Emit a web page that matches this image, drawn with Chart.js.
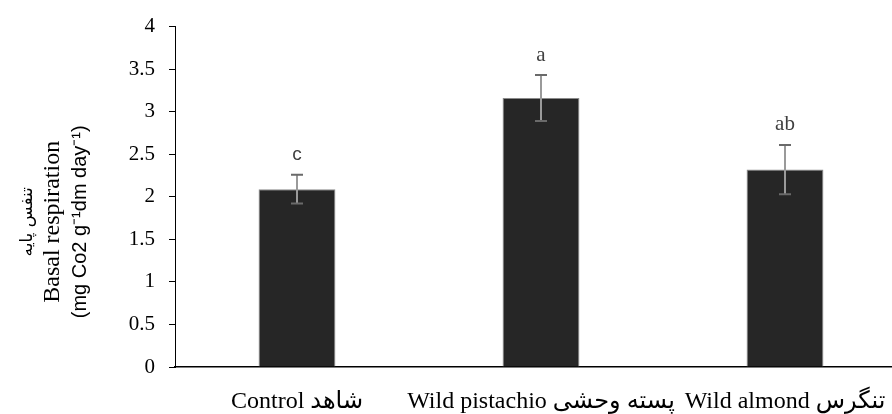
<!DOCTYPE html>
<html>
<head>
<meta charset="utf-8">
<script src="https://cdn.jsdelivr.net/npm/chart.js@4/dist/chart.umd.min.js"></script>
<style>
  html, body { margin: 0; padding: 0; background: #ffffff; overflow: hidden; }
  #wrap { width: 910px; height: 414px; }
</style>
</head>
<body>
<div id="wrap"><canvas id="c" width="910" height="414"></canvas></div>
<script>
// ---- data ----
const categories = ['Control شاهد', 'Wild pistachio پسته وحشی', 'Wild almond تنگرس'];
const meanValues = [2.09, 3.16, 2.32];
const errorValues = [0.17, 0.27, 0.29];
const groupLetters = ['c', 'a', 'ab'];
const yTickValues = [0, 0.5, 1, 1.5, 2, 2.5, 3, 3.5, 4];
const yTitleLines = ['تنفس پایه', 'Basal respiration', '(mg Co2 g⁻¹dm day⁻¹)'];

const errorBarPlugin = {
  id: 'errorBars',
  afterDatasetsDraw(chart) {
    const ctx = chart.ctx;
    const meta = chart.getDatasetMeta(0);
    const y = chart.scales.y;
    ctx.save();
    meta.data.forEach((bar, i) => {
      const x = bar.x;
      const top = y.getPixelForValue(meanValues[i] + errorValues[i]);
      const bot = y.getPixelForValue(meanValues[i] - errorValues[i]);
      ctx.strokeStyle = '#9a9a9a';
      ctx.lineWidth = 2;
      ctx.beginPath();
      ctx.moveTo(x, top);
      ctx.lineTo(x, bot);
      ctx.stroke();
      ctx.strokeStyle = '#6a6a6a';
      ctx.beginPath();
      ctx.moveTo(x - 6, top); ctx.lineTo(x + 6, top);
      ctx.moveTo(x - 6, bot); ctx.lineTo(x + 6, bot);
      ctx.stroke();
      // letters
      ctx.fillStyle = '#404040';
      ctx.textAlign = 'center';
      ctx.textBaseline = 'middle';
      ctx.font = groupLetters[i] === 'c' ? '19px "Liberation Sans", sans-serif' : '21px "Liberation Serif", serif';
      ctx.fillText(groupLetters[i], x, top - 20);
    });
    ctx.restore();
  }
};

const yTitlePlugin = {
  id: 'yTitle',
  afterDraw(chart) {
    const ctx = chart.ctx;
    const ca = chart.chartArea;
    const cy = (ca.top + ca.bottom) / 2 + 25;
    const specs = [
      { x: 28, font: '17px "DejaVu Sans", sans-serif' },
      { x: 53, font: '24px "Liberation Serif", serif' },
      { x: 80, font: '20px "Liberation Sans", sans-serif' }
    ];
    ctx.save();
    ctx.fillStyle = '#000000';
    ctx.textAlign = 'center';
    ctx.textBaseline = 'middle';
    yTitleLines.forEach((t, i) => {
      ctx.save();
      ctx.translate(specs[i].x, cy);
      ctx.rotate(-Math.PI / 2);
      ctx.font = specs[i].font;
      ctx.fillText(t, 0, 0);
      ctx.restore();
    });
    ctx.restore();
  }
};

new Chart(document.getElementById('c'), {
  type: 'bar',
  data: {
    labels: categories,
    datasets: [{
      data: meanValues,
      backgroundColor: '#262626',
      borderColor: '#8a8a8a',
      borderWidth: 1,
      categoryPercentage: 1,
      barPercentage: 0.315
    }]
  },
  options: {
    responsive: false,
    animation: false,
    devicePixelRatio: 1,
    layout: { padding: { left: 0, right: 3, top: 24, bottom: 0 } },
    plugins: { legend: { display: false }, tooltip: { enabled: false } },
    scales: {
      x: {
        grid: { display: false, drawTicks: false },
        border: { display: true, color: '#000000', width: 1.5 },
        ticks: {
          color: '#000000',
          padding: 20,
          maxRotation: 0,
          autoSkip: false,
          font: { family: '"Liberation Serif", "DejaVu Sans", serif', size: 24 }
        },
        afterFit(scale) { scale.height = 47; }
      },
      y: {
        min: 0,
        max: 4,
        afterBuildTicks(scale) { scale.ticks = yTickValues.map(v => ({ value: v })); },
        grid: { drawOnChartArea: false, drawTicks: true, tickLength: 6, color: '#000000' },
        border: { display: true, color: '#000000', width: 1 },
        ticks: {
          color: '#000000',
          padding: 14,
          callback: v => String(v),
          font: { family: '"Liberation Serif", serif', size: 21 }
        },
        afterFit(scale) { scale.width = 175; }
      }
    }
  },
  plugins: [errorBarPlugin, yTitlePlugin]
});
</script>
</body>
</html>
